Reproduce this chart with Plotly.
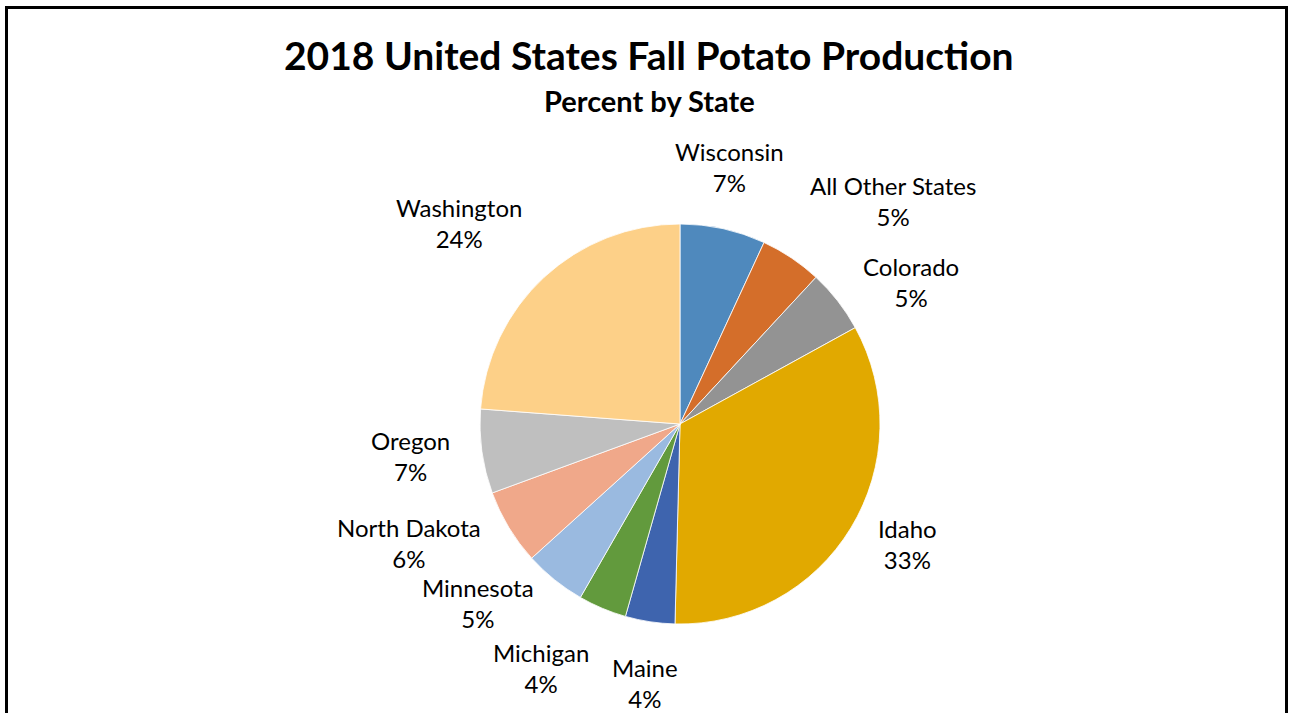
import math
import plotly.graph_objects as go

# ---- data ----
states = ["Wisconsin", "All Other States", "Colorado", "Idaho", "Maine",
          "Michigan", "Minnesota", "North Dakota", "Oregon", "Washington"]
percent = [6.9, 5.0, 5.1, 33.4, 4.0, 3.9, 5.0, 6.1, 6.8, 23.8]
colors = ["#4F89BD", "#D46E2A", "#939393", "#E1A900", "#3E64AE",
          "#629A3D", "#9ABAE0", "#F0A88A", "#BFBFBF", "#FDD088"]

title_text = "2018 United States Fall Potato Production"
subtitle_text = "Percent by State"

# ---- layout geometry (pixels) ----
W, H = 1293, 713
CX, CY, R = 680, 424, 200
GAP = 30
FONT = "Lato, Carlito, Calibri, sans-serif"


def px(x):
    return x / W


def py(y):
    return 1 - y / H


fig = go.Figure()
fig.add_trace(go.Pie(
    labels=states,
    values=percent,
    sort=False,
    direction="clockwise",
    rotation=0,
    marker=dict(colors=colors, line=dict(color="white", width=0.8)),
    textinfo="none",
    hoverinfo="label+percent",
    showlegend=False,
    domain=dict(x=[px(CX - R), px(CX + R)], y=[py(CY + R), py(CY - R)]),
))

# ---- data labels, positioned from the cumulative share of each slice ----
annotations = []
total = sum(percent)
cum = 0.0
for name, v in zip(states, percent):
    mid = (cum + v / 2) / total * 2 * math.pi
    cum += v
    s, c = math.sin(mid), math.cos(mid)
    lx = CX + (R + GAP) * s
    ly = CY - (R + GAP) * c
    xa = "left" if s > 0.25 else ("right" if s < -0.25 else "center")
    ya = "bottom" if c > 0.7 else ("top" if c < -0.8 else "middle")
    pct = round(v / total * 100)
    annotations.append(dict(
        x=px(lx), y=py(ly), xref="paper", yref="paper",
        xanchor=xa, yanchor=ya, align="center",
        text=f"{name}<br>{pct}%", showarrow=False,
        font=dict(family=FONT, size=24, color="#000000"),
    ))

annotations.append(dict(
    x=px(649), y=py(55), xref="paper", yref="paper",
    xanchor="center", yanchor="middle", showarrow=False,
    text=f"<b>{title_text}</b>",
    font=dict(family=FONT, size=39, color="#000000"),
))
annotations.append(dict(
    x=px(649), y=py(100), xref="paper", yref="paper",
    xanchor="center", yanchor="middle", showarrow=False,
    text=f"<b>{subtitle_text}</b>",
    font=dict(family=FONT, size=29, color="#000000"),
))

fig.update_layout(
    width=W, height=H,
    margin=dict(l=0, r=0, t=0, b=0),
    paper_bgcolor="white",
    plot_bgcolor="white",
    annotations=annotations,
    shapes=[dict(type="rect", xref="paper", yref="paper",
                 x0=px(6.5), x1=px(1286.5), y0=-0.1, y1=py(7.5),
                 line=dict(color="black", width=3), fillcolor="rgba(0,0,0,0)")],
)

fig.write_html("out.html",
               config={"displayModeBar": False},
               post_script="document.body.style.margin='0';"
                           "document.body.style.overflow='hidden';")
